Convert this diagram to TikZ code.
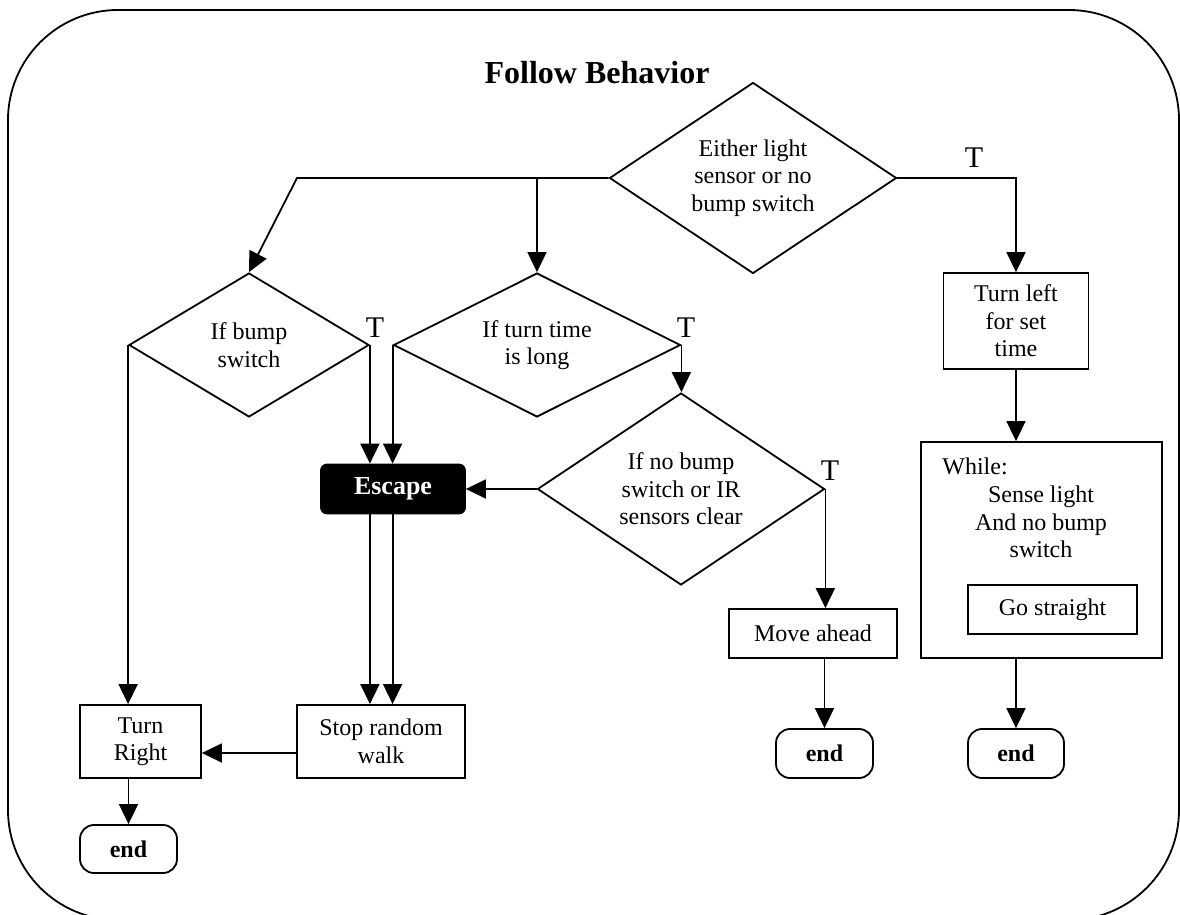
\documentclass[tikz,border=0pt]{standalone}
\usepackage{fontspec}
\setmainfont{Liberation Serif}
\usetikzlibrary{shapes.geometric,arrows.meta,calc}
\tikzset{
 base/.style={draw, line width=0.9pt, align=center, inner sep=0pt, font=\fontsize{12pt}{13.75pt}\selectfont},
 dec/.style={base, diamond, shape aspect=1.5},
 box/.style={base, rectangle},
 term/.style={base, rectangle, rounded corners=7pt, font=\fontsize{12pt}{13.75pt}\selectfont\bfseries},
 esc/.style={base, rectangle, rounded corners=3pt, fill=black, text=white, font=\fontsize{13pt}{15pt}\selectfont\bfseries},
 arr/.style={line width=0.9pt, -{Triangle[length=10pt,width=9.5pt]}},
 ln/.style={line width=0.9pt},
 tlabel/.style={font=\fontsize{15pt}{17pt}\selectfont, inner sep=0pt},
 plain/.style={font=\fontsize{12pt}{13.75pt}\selectfont, inner sep=0pt, align=center},
}
\begin{document}
\begin{tikzpicture}[x=0.5pt,y=-0.5pt]
\useasboundingbox (0,0) rectangle (1180,915);
\draw[ln, rounded corners=55pt] (8,10) rectangle (1179,920);
\node[font=\fontsize{16pt}{18pt}\selectfont\bfseries, inner sep=0pt] (title) at (597,73) {Follow Behavior};

% decisions
\node[dec, minimum width=143.5pt, minimum height=95.5pt] (top) at (753,178) {Either light\\sensor or no\\bump switch};
\node[dec, minimum width=120pt, minimum height=72pt] (ifbump) at (249,345) {If bump\\switch};
\node[dec, minimum width=143.5pt, minimum height=72pt] (mid) at (537,345) {If turn time\\is long};
\node[dec, minimum width=143.5pt, minimum height=96pt] (third) at (681,489) {If no bump\\switch or IR\\sensors clear};

% boxes
\node[box, minimum width=72.5pt, minimum height=48pt] (turnleft) at (1016,321) {Turn left\\for set\\time};
\node[esc, minimum width=72pt, minimum height=24.5pt] (escape) at (393,489) {Escape};
\node[box, minimum width=84pt, minimum height=36.5pt] (stop) at (381,741.5) {Stop random\\walk};
\node[box, minimum width=60.5pt, minimum height=36.5pt] (turnright) at (140.5,741.5) {Turn\\Right};
\node[term, minimum width=48.5pt, minimum height=24pt] (end1) at (128.5,849) {end};
\node[box, minimum width=84pt, minimum height=24.5pt] (move) at (813,633.5) {Move ahead};
\node[term, minimum width=48.5pt, minimum height=24.5pt] (end2) at (824.5,753.5) {end};
\node[box, minimum width=120.5pt, minimum height=108pt] (while) at (1041.5,550) {};
\node[plain, anchor=base west] (whilelbl) at (942,474) {While:};
\node[plain] (whilecond) at (1041,522) {Sense light\\And no bump\\switch};
\node[box, minimum width=84.5pt, minimum height=24.5pt] (go) at (1052.5,609.5) {Go straight};
\node[term, minimum width=48pt, minimum height=24.5pt] (end3) at (1016,753.5) {end};

% T labels
\node[tlabel] (t1) at (974,158) {T};
\node[tlabel] (t2) at (375,328) {T};
\node[tlabel] (t3) at (686,328) {T};
\node[tlabel] (t4) at (830,471) {T};

% connectors
\coordinate (j1) at (297,178);
\draw[arr] (top.west) -- (j1) -- (ifbump.north);
\draw[arr] (top.west -| mid.north) -- (mid.north);
\draw[arr] (top.east) -| (turnleft.north);
\draw[arr] (turnleft.south) -- (turnleft.south |- while.north);
\draw[arr] (while.south -| end3.north) -- (end3.north);

\draw[arr] (ifbump.west) -- (ifbump.west |- turnright.north);
\draw[arr] (ifbump.east) -- (ifbump.east |- escape.north);
\draw[arr] (mid.west) -- (mid.west |- escape.north);
\draw[arr] (mid.east) -- (mid.east |- third.north);
\draw[arr] (third.west) -- (escape.east);
\draw[arr] (third.east) -- (third.east |- move.north);
\draw[arr] (move.south -| end2.north) -- (end2.north);

\draw[arr] (escape.south -| ifbump.east) -- (stop.north -| ifbump.east);
\draw[arr] (escape.south -| mid.west) -- (stop.north -| mid.west);
\draw[arr] ([yshift=-5.75pt]stop.west) -- ([yshift=-5.75pt]turnright.east);
\draw[arr] (turnright.south -| end1.north) -- (end1.north);
\end{tikzpicture}
\end{document}
